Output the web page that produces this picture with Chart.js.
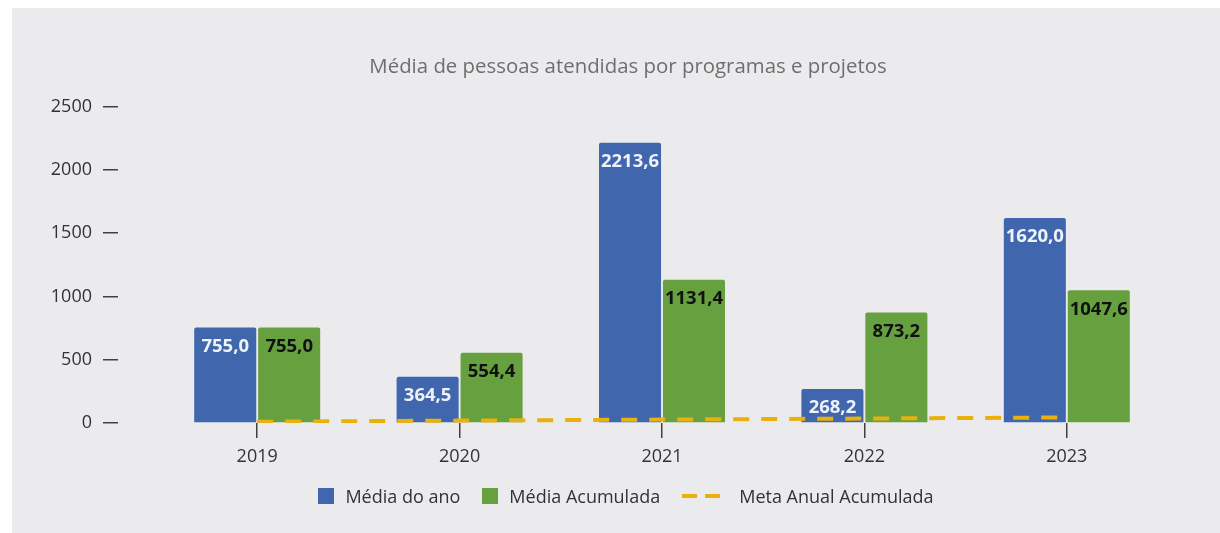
<!DOCTYPE html>
<html lang="pt">
<head>
<meta charset="utf-8">
<title>Média de pessoas atendidas</title>
<script src="https://cdn.jsdelivr.net/npm/chart.js@4.4.1/dist/chart.umd.min.js"></script>
<style>
    html, body { margin: 0; padding: 0; background: #ffffff; }
    #panel {
        position: absolute; left: 12px; top: 8px;
        width: 1208px; height: 525px;
        background: #ebebee;
    }
    #chart { position: absolute; left: 0; top: 0; }
    #legend {
        position: absolute; left: 20px; right: 0; top: 476px;
        display: flex; justify-content: center; align-items: center;
        font-family: "Open Sans", sans-serif; font-size: 18px; color: #333;
    }
    .item { display: flex; align-items: center; margin: 0 11px; }
    .box { margin-right: 11px; }
</style>
</head>
<body>
<div id="panel">
    <canvas id="chart" width="1208" height="525"></canvas>
    <div id="legend"></div>
</div>
<script>
// Chart data
const years = ['2019', '2020', '2021', '2022', '2023'];
const mediaAno = [755.0, 364.5, 2213.6, 268.2, 1620.0];
const mediaAcumulada = [755.0, 554.4, 1131.4, 873.2, 1047.6];
const metaAnualAcumulada = [10, 19, 27, 35, 44];   // estimated from the dashed line
const yTicks = [0, 500, 1000, 1500, 2000, 2500];

const BLUE = '#4067ad';
const GREEN = '#67a03f';
const GOLD = '#e9b00e';
const FONT = '"Open Sans", sans-serif';

function fmt(v) {
    return v.toFixed(1).replace('.', ',');
}

/**
 * Draw values inside the top of each bar
 */
const barLabels = {
    id: 'barLabels',
    afterDatasetsDraw(chart) {
        const ctx = chart.ctx;
        ctx.save();
        ctx.font = 'bold 18.5px ' + FONT;
        ctx.textAlign = 'center';
        ctx.textBaseline = 'middle';
        chart.data.datasets.forEach((ds, i) => {
            if (ds.type !== 'bar') return;
            const meta = chart.getDatasetMeta(i);
            ctx.fillStyle = ds.labelColor;
            meta.data.forEach((bar, j) => {
                ctx.fillText(fmt(ds.data[j]), bar.x, bar.y + 19);
            });
        });
        ctx.restore();
    }
};

/**
 * Build the legend as html (items need different mark widths)
 */
function buildLegend(chart) {
    const el = document.getElementById('legend');
    el.innerHTML = '';
    chart.data.datasets.forEach(ds => {
        const item = document.createElement('div');
        item.className = 'item';
        const box = document.createElement('canvas');
        box.className = 'box';
        const isLine = ds.type === 'line';
        box.width = isLine ? 46 : 16;
        box.height = 16;
        const c = box.getContext('2d');
        if (isLine) {
            c.strokeStyle = ds.borderColor;
            c.lineWidth = 4;
            c.setLineDash([15, 8]);
            c.beginPath();
            c.moveTo(0, 8);
            c.lineTo(46, 8);
            c.stroke();
        } else {
            c.fillStyle = ds.backgroundColor;
            c.fillRect(0, 0, 16, 16);
        }
        item.appendChild(box);
        const txt = document.createElement('span');
        txt.textContent = ds.label;
        item.appendChild(txt);
        el.appendChild(item);
    });
}

// empty axis used only to reserve space
function spacer(position, weight, width) {
    return {
        type: 'linear',
        position: position,
        weight: weight,
        display: true,
        border: { display: false },
        grid: { display: false },
        ticks: { display: false },
        afterFit: s => { s.width = width; }
    };
}

const chart = new Chart(document.getElementById('chart').getContext('2d'), {
    data: {
        labels: years,
        datasets: [
            {
                type: 'bar',
                label: 'Média do ano',
                data: mediaAno,
                backgroundColor: BLUE,
                labelColor: '#eef2fa',
                borderRadius: 2,
                barPercentage: 0.97,
                categoryPercentage: 0.632,
                order: 1
            },
            {
                type: 'bar',
                label: 'Média Acumulada',
                data: mediaAcumulada,
                backgroundColor: GREEN,
                labelColor: '#111111',
                borderRadius: 2,
                barPercentage: 0.97,
                categoryPercentage: 0.632,
                order: 1
            },
            {
                type: 'line',
                label: 'Meta Anual Acumulada',
                data: metaAnualAcumulada,
                borderColor: GOLD,
                borderWidth: 4,
                borderDash: [16, 12],
                pointRadius: 0,
                fill: false,
                tension: 0,
                order: 0
            }
        ]
    },
    options: {
        responsive: false,
        animation: false,
        layout: {
            // right padding smaller so the title centres where the original has it
            padding: { left: 36, right: 12, top: 0, bottom: 50 }
        },
        plugins: {
            legend: { display: false },
            tooltip: { enabled: false },
            title: {
                display: true,
                text: 'Média de pessoas atendidas por programas e projetos',
                color: '#6e6e6e',
                font: { family: FONT, size: 20.4, weight: 'normal' },
                padding: { top: 47, bottom: 27 }
            }
        },
        scales: {
            x: {
                offset: true,
                border: { display: false },
                grid: {
                    offset: false,
                    drawOnChartArea: false,
                    drawTicks: true,
                    tickLength: 15,
                    color: '#404040',
                    lineWidth: 1.5
                },
                ticks: {
                    color: '#333',
                    padding: 8,
                    font: { family: FONT, size: 18 }
                },
                afterFit: s => { s.height = 60; }
            },
            y: {
                min: 0,
                max: 2500,
                weight: 2,
                border: { display: false },
                grid: {
                    drawOnChartArea: false,
                    tickLength: 15,
                    color: '#404040',
                    lineWidth: 1.5
                },
                afterBuildTicks: s => { s.ticks = yTicks.map(v => ({ value: v })); },
                ticks: {
                    color: '#333',
                    padding: 11,
                    font: { family: FONT, size: 18 },
                    callback: v => String(v)
                },
                afterFit: s => { s.width = 70; }
            },
            gapLeft: spacer('left', 1, 38),
            gapRight: spacer('right', 1, 40)
        }
    },
    plugins: [barLabels]
});

buildLegend(chart);
</script>
</body>
</html>
